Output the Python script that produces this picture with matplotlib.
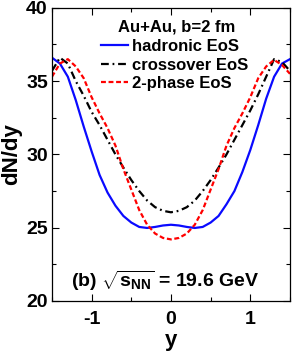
import numpy as np
import matplotlib
matplotlib.use("Agg")
import matplotlib.pyplot as plt

# ── Data ─────────────────────────────────────────────────────────────────────
Y_RAP = [-1.5, -1.4, -1.3, -1.2, -1.1, -1.0, -0.9, -0.8, -0.7, -0.6, -0.5,
         -0.4, -0.3, -0.2, -0.1, 0.0, 0.1, 0.2, 0.3, 0.4, 0.5, 0.6, 0.7,
         0.8, 0.9, 1.0, 1.1, 1.2, 1.3, 1.4, 1.5]

HADRONIC = [36.6, 36.2, 35.3, 33.7, 31.9, 30.2, 28.6, 27.4, 26.5, 25.8, 25.35,
            25.05, 24.98, 25.05, 25.15, 25.2, 25.15, 25.05, 24.98, 25.05, 25.35,
            25.8, 26.6, 27.5, 28.8, 30.3, 32.0, 33.8, 35.3, 36.2, 36.5]

CROSSOVER = [35.7, 36.6, 36.2, 35.0, 34.0, 32.9, 32.0, 31.0, 30.0, 29.1, 28.25,
             27.5, 26.85, 26.4, 26.15, 26.05, 26.15, 26.4, 26.85, 27.5, 28.25,
             29.1, 30.0, 31.0, 32.0, 33.0, 34.1, 35.3, 36.5, 36.3, 35.7]

TWO_PHASE = [35.3, 36.2, 36.5, 36.0, 35.2, 33.9, 32.8, 31.8, 30.6, 29.0, 27.6,
             26.2, 25.2, 24.6, 24.3, 24.2, 24.3, 24.6, 25.2, 26.2, 27.6,
             29.0, 30.6, 31.8, 32.8, 33.9, 35.2, 36.0, 36.45, 36.1, 35.5]

LABELS = ["hadronic EoS", "crossover EoS", "2-phase EoS"]
LEGEND_TITLE = "Au+Au, b=2 fm"
PANEL_TEXT = r"(b) $\sqrt{\mathbf{s}_{\mathbf{NN}}}$ = 19.6 GeV"

# ── Style ─────────────────────────────────────────────────────────────────────
plt.rcParams["font.family"] = ["Liberation Sans", "DejaVu Sans"]
plt.rcParams["font.weight"] = "bold"
plt.rcParams["axes.unicode_minus"] = False
plt.rcParams["mathtext.fontset"] = "custom"
plt.rcParams["mathtext.rm"] = "Liberation Sans:bold"
plt.rcParams["mathtext.bf"] = "Liberation Sans:bold"
plt.rcParams["mathtext.it"] = "Liberation Sans:bold"

fig = plt.figure(figsize=(2.92, 3.57), dpi=100)
ax = fig.add_axes([0.178, 0.157, 0.815, 0.821])

ax.plot(Y_RAP, HADRONIC, color="#0a0aff", lw=1.6, label=LABELS[0])
ax.plot(Y_RAP, CROSSOVER, color="black", lw=1.6, dashes=(3.5, 1.7, 0.8, 1.7),
        label=LABELS[1])
ax.plot(Y_RAP, TWO_PHASE, color="#ff0000", lw=1.6, dashes=(2.2, 1.2),
        label=LABELS[2])

ax.set_xlim(-1.5, 1.5)
ax.set_ylim(20, 40)
ax.set_xticks([-1, 0, 1])
ax.set_xticks([-1.5, -0.5, 0.5, 1.5], minor=True)
ax.set_yticks([20, 25, 30, 35, 40])
ax.set_yticks([22.5, 27.5, 32.5, 37.5], minor=True)
ax.tick_params(which="both", direction="in", top=True, right=True,
               labelsize=14, width=0.8, pad=3)
ax.tick_params(axis="x", which="both", pad=7)
ax.tick_params(which="major", length=5)
ax.tick_params(which="minor", length=3)
for s in ax.spines.values():
    s.set_linewidth(0.9)

ax.set_xlabel("y", fontsize=16, fontweight="bold", labelpad=2)
ax.set_ylabel("dN/dy", fontsize=16, fontweight="bold", labelpad=3)

# legend title drawn as its own text, entries below it
ax.text(0.525, 0.935, LEGEND_TITLE, transform=ax.transAxes, ha="center",
        va="center", fontsize=12, fontweight="bold")
leg = ax.legend(loc="center", bbox_to_anchor=(0.515, 0.805), frameon=False,
                fontsize=12, handlelength=1.6, handletextpad=0.25,
                labelspacing=0.22, borderpad=0)

ax.text(0.475, 0.068, PANEL_TEXT, transform=ax.transAxes, ha="center",
        va="center", fontsize=14, fontweight="bold")

fig.savefig("out.png", dpi=100)
